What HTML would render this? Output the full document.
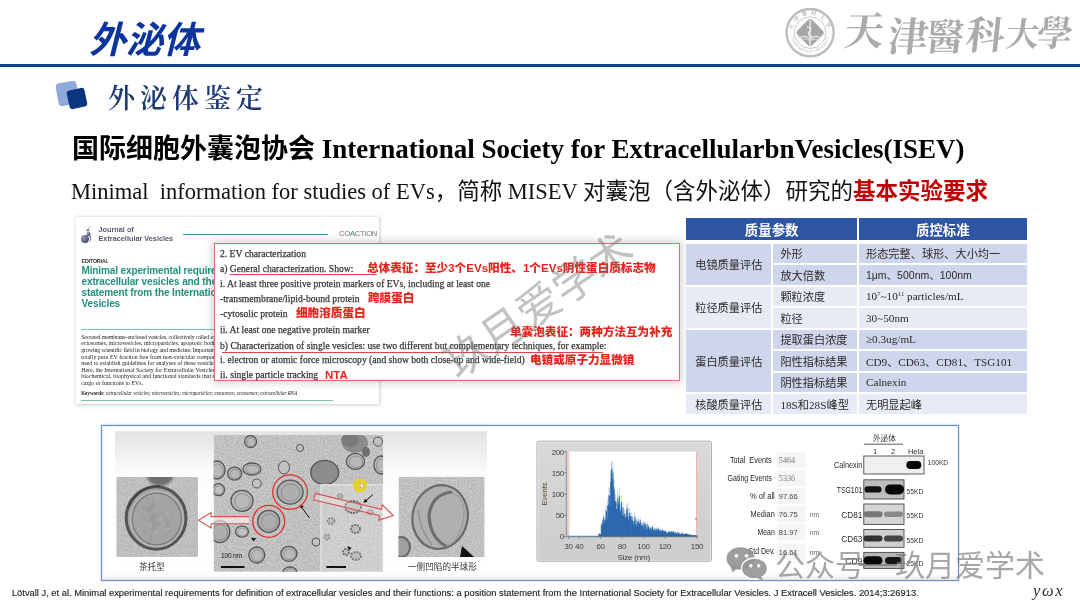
<!DOCTYPE html>
<html><head><meta charset="utf-8">
<style>
*{margin:0;padding:0;box-sizing:border-box}
html,body{width:1080px;height:608px;overflow:hidden;background:#fff}
body{position:relative;font-family:"Liberation Sans","Noto Sans CJK SC",sans-serif}
.a{position:absolute}
.sans{font-family:"Liberation Sans","Noto Sans CJK SC",sans-serif}
.serif{font-family:"Liberation Serif","Noto Serif CJK SC",serif}
#title{left:86px;top:17px;font-size:37px;font-weight:700;color:#0b359c;transform:skewX(-14deg);transform-origin:left bottom;line-height:48px;letter-spacing:0px;white-space:nowrap}
#hline{left:0;top:64px;width:1080px;height:2.5px;background:#11408e}
#sub{left:108px;top:82px;font-size:27px;font-weight:600;color:#1e3a72;font-family:"Liberation Serif","Noto Serif CJK SC",serif;letter-spacing:5px;line-height:34px;white-space:nowrap}
#h1{left:72px;top:131px;font-size:27px;font-weight:700;color:#000;white-space:nowrap;line-height:36px;font-family:"Liberation Serif","Noto Sans CJK SC",serif}
#h1 .cn{font-family:"Liberation Sans","Noto Sans CJK SC",sans-serif;font-weight:700}
#h2{left:71px;top:177px;font-size:22.5px;color:#111;white-space:nowrap;line-height:30px;font-family:"Liberation Serif","Noto Sans CJK SC",serif}
#h2 .cn{font-family:"Liberation Sans","Noto Sans CJK SC",sans-serif}
#h2 .red{color:#c00000;font-weight:700;font-family:"Liberation Sans","Noto Sans CJK SC",sans-serif}

#jpf{left:75.5px;top:217px;width:303.5px;height:186.7px;background:#fff;box-shadow:0 0 3px 1.5px rgba(0,0,0,.16)}
#jp{left:76px;top:219px;width:302.5px;height:184px;overflow:hidden}
#jp .t{position:absolute;white-space:nowrap}
#jp .jn{font-weight:700;font-size:7.3px;color:#555b6b;line-height:8px}
#jp .ttl{font-weight:700;font-size:10px;letter-spacing:-.12px;color:#23907c;line-height:11px;left:5.5px;top:46.3px}
#jp .par{font-family:"Liberation Serif",serif;font-size:5.9px;line-height:6.6px;color:#1c1c1c;left:5.2px}
#ov{left:214px;top:242.6px;width:466px;height:138px;background:#fff;border:1.4px solid #dd7070;box-shadow:0 0 8px 2px rgba(0,0,0,.17)}
#ov .l{position:absolute;left:5px;font-family:"Liberation Serif",serif;font-size:10.5px;color:#2e2e2e;-webkit-text-stroke:.25px #3a3a3a;white-space:nowrap;line-height:12px;transform:scaleX(.915);transform-origin:0 0}
#ov .r{position:absolute;font-family:"Liberation Sans","Noto Sans CJK SC",sans-serif;font-weight:900;font-size:11.6px;color:#e8231d;white-space:nowrap;line-height:14px}
#ov .u{position:absolute;height:1.3px;background:#d94848}

.tc{position:absolute;display:flex;align-items:center;font-size:11.2px;color:#2a2a2a;white-space:nowrap;font-family:"Liberation Serif","Noto Sans CJK SC",sans-serif}
.tc .c{font-family:"Liberation Sans","Noto Sans CJK SC",sans-serif}
.th{position:absolute;display:flex;align-items:center;justify-content:center;background:#2e54a4;color:#fff;font-weight:700;font-size:13.4px;font-family:"Liberation Sans","Noto Sans CJK SC",sans-serif}
.dk{background:#cfd5ea}.lt{background:#e8ebf5}
sup{font-size:.6em;vertical-align:.55em;line-height:0}

#logo{left:785px;top:8px}
#tjmu{left:0;top:0;width:0;height:0}
#tjmu span{position:absolute;font-family:"Liberation Serif","Noto Serif CJK TC","Noto Serif CJK SC",serif;font-weight:700;color:#ababab;line-height:1;white-space:nowrap;transform:skewX(-6deg)}
#wm{left:539.3px;top:301.1px;width:0;height:0}
#wm div{position:absolute;left:-130px;top:-25.5px;width:260px;height:60px;text-align:center;font-family:"Liberation Sans","Noto Sans CJK SC",sans-serif;font-weight:400;font-size:43.7px;line-height:60px;color:rgba(120,120,120,.45);transform:rotate(-34.5deg);white-space:nowrap}
#wx{left:775px;top:546px;font-family:"Liberation Sans","Noto Sans CJK SC",sans-serif;font-weight:400;font-size:30px;line-height:40px;color:rgba(125,125,125,.68);white-space:nowrap}
#foot{left:11.9px;top:588px;font-family:"Liberation Sans",sans-serif;font-size:9.35px;line-height:11px;color:#1a1a1a;-webkit-text-stroke:.15px #333;white-space:nowrap}
#ywx{left:1033px;top:583px;font-family:"Liberation Serif",serif;font-style:italic;font-size:16.5px;letter-spacing:1.7px;line-height:16px;color:#333;white-space:nowrap}
</style></head><body>

<div id="title" class="a">外泌体</div>
<div id="hline" class="a"></div>
<svg id="logo" class="a" width="52" height="52" viewBox="0 0 52 52">
 <circle cx="25.1" cy="24.6" r="23.6" fill="none" stroke="#bdbdbd" stroke-width="2.4"/>
 <circle cx="25.1" cy="24.6" r="15.8" fill="none" stroke="#c9c9c9" stroke-width="1"/>
 <rect x="14.6" y="14.1" width="21" height="21" rx="3.5" transform="rotate(45 25.1 24.6)" fill="#a6a6a6"/>
 <path d="M25.1 12 V40" stroke="#eee" stroke-width="1.3"/>
 <path d="M22 19 Q28 20 25 23 Q21 26 26 28 Q29 30 24 32" fill="none" stroke="#eee" stroke-width="1.3"/>
 <path d="M14 30 Q20 26 25 31 Q30 26 36 30" fill="none" stroke="#ddd" stroke-width="1.3"/>
 <path d="M15 32.5 Q20 29 25 33 Q30 29 35 32.5" fill="none" stroke="#ddd" stroke-width="1"/>
 <path id="arct" d="M7.5 22 A17.8 17.8 0 0 1 42.7 22" fill="none"/><text font-family="Liberation Serif,Noto Serif CJK TC,serif" font-size="5.2" font-weight="700" fill="#b0b0b0" letter-spacing="3.4"><textPath href="#arct">天津醫科大學</textPath></text>
 <path id="arcb" d="M6 28 A19.3 19.3 0 0 0 44.2 28" fill="none"/>
 <text font-family="Liberation Serif,serif" font-size="3.6" fill="#b5b5b5"><textPath href="#arcb">TIANJIN MEDICAL UNIVERSITY</textPath></text>
</svg>
<div id="tjmu" class="a"><span style="left:843.8px;top:12.4px;font-size:40px">天</span><span style="left:887.5px;top:17.5px;font-size:40px">津</span><span style="left:926.5px;top:19.0px;font-size:37px">醫</span><span style="left:966.4px;top:16.3px;font-size:39px">科</span><span style="left:1006.4px;top:19.1px;font-size:33px">大</span><span style="left:1036.8px;top:16.1px;font-size:36px">學</span></div>


<!-- bullet -->
<div class="a" style="left:57px;top:82px;width:21px;height:23px;background:#8ea9dc;border-radius:4px;transform:rotate(-10deg)"></div>
<div class="a" style="left:68px;top:89px;width:18px;height:19px;background:#0b3580;border-radius:3px;transform:rotate(-12deg)"></div>
<div id="sub" class="a">外泌体鉴定</div>

<div id="h1" class="a"><span class="cn">国际细胞外囊泡协会</span> International Society for ExtracellularbnVesicles(ISEV)</div>
<div id="h2" class="a">Minimal&nbsp; information for studies of EVs<span class="cn">，简称</span> MISEV <span class="cn">对囊泡（含外泌体）研究的</span><span class="red">基本实验要求</span></div>


<div id="jpf" class="a"></div>
<div id="jp" class="a">
 <svg class="t" style="left:4px;top:7px" width="14" height="19" viewBox="0 0 14 19">
  <defs><radialGradient id="sg" cx="35%" cy="35%" r="70%"><stop offset="0" stop-color="#9aa0bb"/><stop offset="1" stop-color="#3c4468"/></radialGradient></defs>
  <circle cx="5" cy="13" r="4" fill="url(#sg)"/>
  <path d="M9.5 8.5 Q13 12 9 17.5 Q12 12 8.5 9z" fill="#4a5274"/>
  <circle cx="8.5" cy="8" r="2" fill="url(#sg)"/>
  <circle cx="8" cy="4.2" r="1.2" fill="#6a7090"/>
  <path d="M8 2.5 L10.5 0.5" stroke="#7a8098" stroke-width=".6"/>
 </svg>
 <div class="t jn" style="left:22.5px;top:7px">Journal of</div>
 <div class="t jn" style="left:22.5px;top:15.5px">Extracellular Vesicles</div>
 <div class="t" style="left:107px;top:14.5px;width:145px;height:1.2px;background:#3f9f92"></div>
 <div class="t" style="left:263px;top:9.5px;font-size:7.6px;color:#6f7a75;letter-spacing:-.25px;line-height:10px">CO<span style="color:#3c8a60">A</span>CTION</div>
 <div class="t" style="left:5.5px;top:39px;font-size:5.4px;font-weight:700;color:#333;line-height:6px;letter-spacing:-.2px">EDITORIAL</div>
 <div class="t ttl">Minimal experimental requirements for definition of<br>extracellular vesicles and their functions: a position<br>statement from the International Society for Extracellular<br>Vesicles</div>
 <div class="t" style="left:5px;top:109.5px;width:290px;height:1.2px;background:#7cc0b6"></div>
 <div class="t par" style="top:114.8px;letter-spacing:-0.13px">Secreted membrane-enclosed vesicles, collectively called extracellular vesicles (EVs), which include exosomes,</div>
 <div class="t par" style="top:121.4px;letter-spacing:0.00px">ectosomes, microvesicles, microparticles, apoptotic bodies and other EV subsets, encompass a very rapidly</div>
 <div class="t par" style="top:128.0px;letter-spacing:-0.10px">growing scientific field in biology and medicine. Importantly, it is currently technically challenging to obtain a</div>
 <div class="t par" style="top:134.6px;letter-spacing:0.02px">totally pure EV fraction free from non-vesicular components for functional studies, and therefore there is a</div>
 <div class="t par" style="top:141.2px;letter-spacing:0.00px">need to establish guidelines for analyses of these vesicles and reporting of scientific studies on EV biology.</div>
 <div class="t par" style="top:147.8px;letter-spacing:0.01px">Here, the International Society for Extracellular Vesicles (ISEV) provides researchers with a minimal set of</div>
 <div class="t par" style="top:154.3px;letter-spacing:0.03px">biochemical, biophysical and functional standards that should be used to attribute any specific biological</div>
 <div class="t par" style="top:160.9px;letter-spacing:0.00px">cargo or functions to EVs.</div>
 
 <div class="t" style="left:5.2px;top:171.3px;font-family:'Liberation Serif',serif;font-size:5.05px;color:#222;line-height:6px"><b>Keywords:</b> <i>extracellular vesicles; microvesicles; microparticles; exosomes; ectosomes; extracellular RNA</i></div>
 <div class="t" style="left:5px;top:180.5px;width:252px;height:1.2px;background:#7cc0b6"></div>
</div>

<div id="ov" class="a">
 <div class="l" style="top:4.0px">2. EV characterization</div>
 <div class="l" style="top:19.0px">a) General characterization. Show:</div>
 <div class="u" style="left:15px;top:30.0px;width:147px"></div>
 <div class="r" style="left:152px;top:17.0px">总体表征：至少3个EVs阳性、1个EVs阴性蛋白质标志物</div>
 <div class="l" style="top:34.5px">i. At least three positive protein markers of EVs, including at least one</div>
 <div class="l" style="top:49.5px">-transmembrane/lipid-bound protein</div>
 <div class="r" style="left:153px;top:47.5px">跨膜蛋白</div>
 <div class="l" style="top:64.0px">-cytosolic protein</div>
 <div class="r" style="left:81px;top:62.0px">细胞溶质蛋白</div>
 <div class="l" style="top:80.0px">ii. At least one negative protein marker</div>
 <div class="r" style="left:295px;top:81.0px">单囊泡表征：两种方法互为补充</div>
 <div class="l" style="top:96.0px">b) Characterization of single vesicles: use two different but complementary techniques, for example:</div>
 <div class="u" style="left:7px;top:108.5px;width:381px"></div>
 <div class="l" style="top:110.5px">i. electron or atomic force microscopy (and show both close-up and wide-field)</div>
 <div class="r" style="left:315px;top:109.5px">电镜或原子力显微镜</div>
 <div class="l" style="top:125.5px">ii. single particle tracking</div>
 <div class="r" style="left:110px;top:124.5px;font-family:'Liberation Sans',sans-serif;font-size:11.5px">NTA</div>
</div>

<div id="tbl">
<div class="th" style="left:686.3px;top:218px;width:170.7px;height:22px">质量参数</div>
<div class="th" style="left:858.7px;top:218px;width:168.3px;height:22px">质控标准</div>
<div class="tc dk" style="left:686.3px;top:243.5px;width:85.0px;height:41.2px;justify-content:center"><span class="c">电镜质量评估</span></div>
<div class="tc lt" style="left:686.3px;top:286.5px;width:85.0px;height:41.2px;justify-content:center"><span class="c">粒径质量评估</span></div>
<div class="tc dk" style="left:686.3px;top:329.5px;width:85.0px;height:62.7px;justify-content:center"><span class="c">蛋白质量评估</span></div>
<div class="tc lt" style="left:686.3px;top:394.0px;width:85.0px;height:19.7px;justify-content:center"><span class="c">核酸质量评估</span></div>
<div class="tc dk" style="left:773.0px;top:243.5px;width:84.0px;height:19.7px;padding-left:7.4px"><span class="c">外形</span></div>
<div class="tc dk" style="left:858.7px;top:243.5px;width:168.3px;height:19.7px;padding-left:7.3px"><span class="c">形态完整、球形、大小均一</span></div>
<div class="tc dk" style="left:773.0px;top:265.0px;width:84.0px;height:19.7px;padding-left:7.4px"><span class="c">放大倍数</span></div>
<div class="tc dk" style="left:858.7px;top:265.0px;width:168.3px;height:19.7px;padding-left:7.3px"><span class="c" style="font-family:'Liberation Sans','Noto Sans CJK SC',sans-serif;font-size:10.5px">1μm、500nm、100nm</span></div>
<div class="tc lt" style="left:773.0px;top:286.5px;width:84.0px;height:19.7px;padding-left:7.4px"><span class="c">颗粒浓度</span></div>
<div class="tc lt" style="left:858.7px;top:286.5px;width:168.3px;height:19.7px;padding-left:7.3px"><span>10<sup>7</sup>~10<sup>11</sup> particles/mL</span></div>
<div class="tc lt" style="left:773.0px;top:308.0px;width:84.0px;height:19.7px;padding-left:7.4px"><span class="c">粒径</span></div>
<div class="tc lt" style="left:858.7px;top:308.0px;width:168.3px;height:19.7px;padding-left:7.3px"><span>30~50nm</span></div>
<div class="tc dk" style="left:773.0px;top:329.5px;width:84.0px;height:19.7px;padding-left:7.4px"><span class="c">提取蛋白浓度</span></div>
<div class="tc dk" style="left:858.7px;top:329.5px;width:168.3px;height:19.7px;padding-left:7.3px"><span>≥0.3ug/mL</span></div>
<div class="tc dk" style="left:773.0px;top:351.0px;width:84.0px;height:19.7px;padding-left:7.4px"><span class="c">阳性指标结果</span></div>
<div class="tc dk" style="left:858.7px;top:351.0px;width:168.3px;height:19.7px;padding-left:7.3px"><span>CD9<span class="c">、</span>CD63<span class="c">、</span>CD81<span class="c">、</span>TSG101</span></div>
<div class="tc dk" style="left:773.0px;top:372.5px;width:84.0px;height:19.7px;padding-left:7.4px"><span class="c">阴性指标结果</span></div>
<div class="tc dk" style="left:858.7px;top:372.5px;width:168.3px;height:19.7px;padding-left:7.3px"><span>Calnexin</span></div>
<div class="tc lt" style="left:773.0px;top:394.0px;width:84.0px;height:19.7px;padding-left:7.4px"><span>18S<span class="c">和</span>28S<span class="c">峰型</span></span></div>
<div class="tc lt" style="left:858.7px;top:394.0px;width:168.3px;height:19.7px;padding-left:7.3px"><span class="c">无明显起峰</span></div>
</div>
<!--FIG--><svg class="a" style="left:0;top:0" width="1080" height="608" viewBox="0 0 1080 608">
<defs>
<filter id="noise" x="0" y="0" width="100%" height="100%"><feTurbulence type="fractalNoise" baseFrequency="0.75" numOctaves="2" seed="3" result="n"/><feColorMatrix in="n" type="matrix" values="0 0 0 0 0  0 0 0 0 0  0 0 0 0 0  0 0 0 -3.2 1.95" result="a"/><feComposite in="SourceGraphic" in2="a" operator="in"/></filter>
<linearGradient id="bsh" x1="0" y1="0" x2="0" y2="1"><stop offset="0" stop-color="#fff" stop-opacity="0"/><stop offset="1" stop-color="#e2e2e2"/></linearGradient>
<linearGradient id="lsh" x1="0" y1="0" x2="1" y2="0"><stop offset="0" stop-color="#ececec"/><stop offset="1" stop-color="#fff" stop-opacity="0"/></linearGradient>
<linearGradient id="pg" x1="0" y1="0" x2="0" y2="1"><stop offset="0" stop-color="#e1e3e1"/><stop offset=".3" stop-color="#fbfcfb"/><stop offset="1" stop-color="#ffffff"/></linearGradient>
<linearGradient id="hp" x1="0" y1="0" x2="0" y2="1"><stop offset="0" stop-color="#d9d9d9"/><stop offset="1" stop-color="#cdcdcd"/></linearGradient>
<radialGradient id="ves" cx="50%" cy="50%" r="50%"><stop offset="0" stop-color="#a9a9a9"/><stop offset=".78" stop-color="#a0a0a0"/><stop offset=".86" stop-color="#6a6a6a"/><stop offset=".95" stop-color="#555"/><stop offset="1" stop-color="#9a9a9a" stop-opacity="0"/></radialGradient>
<radialGradient id="ves2" cx="50%" cy="50%" r="50%"><stop offset="0" stop-color="#b0b0b0"/><stop offset=".72" stop-color="#a2a2a2"/><stop offset=".85" stop-color="#6e6e6e"/><stop offset=".95" stop-color="#5a5a5a"/><stop offset="1" stop-color="#999" stop-opacity="0"/></radialGradient>
<filter id="bl" x="-20%" y="-20%" width="140%" height="140%"><feGaussianBlur stdDeviation="1.2"/></filter>
<filter id="bl2" x="-20%" y="-20%" width="140%" height="140%"><feGaussianBlur stdDeviation=".6"/></filter>
<clipPath id="cm"><rect x="213.6" y="434.9" width="169.5" height="136.9"/></clipPath>
<clipPath id="cl"><rect x="116.3" y="476.9" width="81.8" height="80"/></clipPath>
<clipPath id="cr"><rect x="398.5" y="476.7" width="86.1" height="80.4"/></clipPath>
</defs>
<rect x="101.5" y="424.5" width="857" height="156" fill="#000" opacity=".14" filter="url(#bl)"/>
<rect x="101.5" y="425.5" width="857" height="155" fill="#fff" stroke="#6a90dc" stroke-width="1.2"/>
<rect x="102.2" y="426.2" width="3" height="153.6" fill="url(#lsh)"/>
<rect x="102.2" y="572.5" width="855.6" height="7.4" fill="url(#bsh)"/>
<rect x="115.1" y="431.2" width="372" height="142" fill="url(#pg)"/>
<g clip-path="url(#cm)">
<rect x="213.6" y="434.9" width="169.5" height="136.9" fill="#cbcbcb"/>
<rect x="213.6" y="434.9" width="169.5" height="136.9" fill="#8a8a8a" filter="url(#noise)" opacity=".4"/>
<ellipse cx="250.6" cy="441.6" rx="6.0" ry="6.0" fill="#b9b9b9" stroke="#555" stroke-width="1.3"/>
<ellipse cx="251.1" cy="442.1" rx="4.3" ry="4.3" fill="none" stroke="#8a8a8a" stroke-width=".9"/>
<ellipse cx="217.0" cy="470.0" rx="8.0" ry="9.0" fill="#b9b9b9" stroke="#555" stroke-width="1.3"/>
<ellipse cx="217.5" cy="470.5" rx="5.8" ry="6.5" fill="none" stroke="#8a8a8a" stroke-width=".9"/>
<ellipse cx="234.6" cy="473.6" rx="7.0" ry="6.5" fill="#b9b9b9" stroke="#555" stroke-width="1.3"/>
<ellipse cx="235.1" cy="474.1" rx="5.0" ry="4.7" fill="none" stroke="#8a8a8a" stroke-width=".9"/>
<ellipse cx="251.9" cy="469.0" rx="9.0" ry="6.0" fill="#b9b9b9" stroke="#555" stroke-width="1.3"/>
<ellipse cx="252.4" cy="469.5" rx="6.5" ry="4.3" fill="none" stroke="#8a8a8a" stroke-width=".9"/>
<ellipse cx="256.8" cy="483.5" rx="4.5" ry="4.5" fill="#c2c2c2" stroke="#555" stroke-width="1.0"/>
<ellipse cx="218.6" cy="489.7" rx="6.0" ry="6.0" fill="#c2c2c2" stroke="#555" stroke-width="1.3"/>
<ellipse cx="219.1" cy="490.2" rx="4.3" ry="4.3" fill="none" stroke="#8a8a8a" stroke-width=".9"/>
<ellipse cx="242.0" cy="500.8" rx="11.0" ry="10.5" fill="#b9b9b9" stroke="#555" stroke-width="1.3"/>
<ellipse cx="242.5" cy="501.3" rx="7.9" ry="7.6" fill="none" stroke="#8a8a8a" stroke-width=".9"/>
<ellipse cx="284.0" cy="467.5" rx="5.5" ry="6.5" fill="#c2c2c2" stroke="#555" stroke-width="1.0"/>
<ellipse cx="324.7" cy="472.4" rx="14.0" ry="12.0" fill="#8c8c8c" stroke="#555" stroke-width="1.3"/>
<ellipse cx="325.2" cy="472.9" rx="10.1" ry="8.6" fill="none" stroke="#8a8a8a" stroke-width=".9"/>
<ellipse cx="355.5" cy="461.3" rx="9.0" ry="8.0" fill="#b9b9b9" stroke="#555" stroke-width="1.3"/>
<ellipse cx="356.0" cy="461.8" rx="6.5" ry="5.8" fill="none" stroke="#8a8a8a" stroke-width=".9"/>
<ellipse cx="378.0" cy="441.6" rx="4.5" ry="4.5" fill="#c2c2c2" stroke="#555" stroke-width="1.0"/>
<ellipse cx="381.0" cy="465.0" rx="7.0" ry="9.0" fill="#b9b9b9" stroke="#555" stroke-width="1.3"/>
<ellipse cx="381.5" cy="465.5" rx="5.0" ry="6.5" fill="none" stroke="#8a8a8a" stroke-width=".9"/>
<ellipse cx="290.1" cy="492.1" rx="13.0" ry="12.0" fill="#aeaeae" stroke="#555" stroke-width="1.3"/>
<ellipse cx="290.6" cy="492.6" rx="9.4" ry="8.6" fill="none" stroke="#8a8a8a" stroke-width=".9"/>
<ellipse cx="268.7" cy="521.3" rx="11.0" ry="11.0" fill="#aeaeae" stroke="#555" stroke-width="1.3"/>
<ellipse cx="269.2" cy="521.8" rx="7.9" ry="7.9" fill="none" stroke="#8a8a8a" stroke-width=".9"/>
<ellipse cx="219.8" cy="531.6" rx="10.0" ry="11.0" fill="#aeaeae" stroke="#555" stroke-width="1.3"/>
<ellipse cx="220.3" cy="532.1" rx="7.2" ry="7.9" fill="none" stroke="#8a8a8a" stroke-width=".9"/>
<ellipse cx="242.0" cy="531.6" rx="6.5" ry="5.5" fill="#c2c2c2" stroke="#555" stroke-width="1.3"/>
<ellipse cx="242.5" cy="532.1" rx="4.7" ry="4.0" fill="none" stroke="#8a8a8a" stroke-width=".9"/>
<ellipse cx="256.8" cy="555.0" rx="8.0" ry="8.0" fill="#b9b9b9" stroke="#555" stroke-width="1.3"/>
<ellipse cx="257.3" cy="555.5" rx="5.8" ry="5.8" fill="none" stroke="#8a8a8a" stroke-width=".9"/>
<ellipse cx="288.9" cy="553.8" rx="8.0" ry="7.5" fill="#b9b9b9" stroke="#555" stroke-width="1.3"/>
<ellipse cx="289.4" cy="554.3" rx="5.8" ry="5.4" fill="none" stroke="#8a8a8a" stroke-width=".9"/>
<ellipse cx="316.0" cy="542.0" rx="4.0" ry="4.0" fill="#c2c2c2" stroke="#555" stroke-width="1.0"/>
<ellipse cx="290.0" cy="572.0" rx="7.0" ry="5.0" fill="#b9b9b9" stroke="#555" stroke-width="1.3"/>
<ellipse cx="290.5" cy="572.5" rx="5.0" ry="3.6" fill="none" stroke="#8a8a8a" stroke-width=".9"/>
<ellipse cx="300.0" cy="448.0" rx="3.5" ry="3.5" fill="#c2c2c2" stroke="#555" stroke-width="1.0"/>
<ellipse cx="355" cy="443" rx="13" ry="10" fill="#8c8c8c"/><ellipse cx="350" cy="440" rx="9" ry="7" fill="#7a7a7a"/><ellipse cx="366" cy="452" rx="4" ry="5" fill="#6d6d6d"/>
<rect x="320.5" y="484.3" width="63" height="88" fill="#d6d6d6"/>
<rect x="320.5" y="484.3" width="63" height="88" fill="#9a9a9a" filter="url(#noise)" opacity=".3"/>
<rect x="321" y="484.8" width="62" height="87" fill="none" stroke="#e4e4e4" stroke-width="1.3"/>
<ellipse cx="353" cy="507" rx="8" ry="6" fill="#bdbdbd" stroke="#666" stroke-width="1.8" stroke-dasharray="2 1"/>
<ellipse cx="331" cy="521" rx="3.5" ry="3" fill="#bdbdbd" stroke="#888" stroke-width="1.8" stroke-dasharray="2 1"/>
<ellipse cx="355.5" cy="529" rx="4.5" ry="4" fill="#bdbdbd" stroke="#707070" stroke-width="1.8" stroke-dasharray="2 1"/>
<ellipse cx="356" cy="556" rx="5" ry="4" fill="#bdbdbd" stroke="#7a7a7a" stroke-width="1.8" stroke-dasharray="2 1"/>
<ellipse cx="346" cy="552" rx="3" ry="3" fill="#bdbdbd" stroke="#6a6a6a" stroke-width="1.8" stroke-dasharray="2 1"/>
<ellipse cx="370" cy="512" rx="3" ry="2" fill="#bdbdbd" stroke="#888" stroke-width="1.8" stroke-dasharray="2 1"/>
<ellipse cx="327" cy="537" rx="2.5" ry="2.5" fill="#bdbdbd" stroke="#909090" stroke-width="1.8" stroke-dasharray="2 1"/>
<ellipse cx="340" cy="496" rx="2.5" ry="2" fill="#bdbdbd" stroke="#999" stroke-width="1.8" stroke-dasharray="2 1"/>
</g>
<rect x="221" y="566" width="23.5" height="2" fill="#111"/>
<rect x="326.4" y="566" width="19.6" height="2" fill="#111"/>
<text x="221" y="557.8" font-family="Liberation Sans,sans-serif" font-size="6.6" fill="#111" letter-spacing="-.2">100 nm</text>
<path d="M309.5 518 L301.5 507.2" stroke="#111" stroke-width="1"/><path d="M299.6 504.6 L303.8 506.4 L300.9 508.6z" fill="#111"/>
<path d="M372.8 494.6 L365.5 501" stroke="#111" stroke-width="1"/><path d="M363.5 503 L365 498.8 L367.6 501.5z" fill="#111"/>
<path d="M251 537.5 L256.5 538.6 L253.2 541.2z" fill="#111"/>
<path d="M347 546 L351.6 547.8 L349.3 550.5z" fill="#111"/>
<circle cx="290.1" cy="492.1" r="17.3" fill="none" stroke="#e0322c" stroke-width="1.3"/>
<circle cx="268.7" cy="521.3" r="16" fill="none" stroke="#e0322c" stroke-width="1.3"/>
<circle cx="360" cy="485.5" r="7" fill="#e8d21c" opacity=".9"/>
<path d="M360.5 483 l0 5 l1.3 -1.3 l1 2 l.8 -.4 l-1 -2 l1.8 0z" fill="#fff" stroke="#777" stroke-width=".3"/>
<g clip-path="url(#cl)">
<rect x="116.3" y="476.9" width="81.8" height="80" fill="#c8c8c8"/>
<rect x="116.3" y="476.9" width="81.8" height="80" fill="#8c8c8c" filter="url(#noise)" opacity=".4"/>
<ellipse cx="160" cy="476" rx="13" ry="10" fill="#555" opacity=".75" filter="url(#bl)"/>
<g filter="url(#bl2)">
<ellipse cx="156.1" cy="518" rx="29.9" ry="31.2" fill="#a3a3a3" stroke="#555" stroke-width="3"/>
<ellipse cx="156.8" cy="519" rx="26.3" ry="27.6" fill="none" stroke="#b8b8b8" stroke-width="1.4"/>
<ellipse cx="156.8" cy="519" rx="24.5" ry="25.8" fill="none" stroke="#7c7c7c" stroke-width="1.2"/>
<path d="M128 508 Q138 486 160 486" fill="none" stroke="#444" stroke-width="2.2"/>
</g>
<g filter="url(#bl2)" opacity=".6">
<circle cx="144.3" cy="507.6" r="2.3" fill="#909090" opacity=".5"/>
<circle cx="149.3" cy="509.5" r="2.3" fill="#8a8a8a" opacity=".5"/>
<circle cx="144.2" cy="503.0" r="1.2" fill="#bcbcbc" opacity=".5"/>
<circle cx="161.7" cy="512.8" r="1.2" fill="#8a8a8a" opacity=".5"/>
<circle cx="160.8" cy="519.4" r="1.4" fill="#bcbcbc" opacity=".5"/>
<circle cx="165.4" cy="533.8" r="1.2" fill="#909090" opacity=".5"/>
<circle cx="153.3" cy="520.0" r="2.6" fill="#8a8a8a" opacity=".5"/>
<circle cx="157.2" cy="523.6" r="2.6" fill="#8a8a8a" opacity=".5"/>
<circle cx="150.8" cy="539.5" r="1.9" fill="#909090" opacity=".5"/>
<circle cx="153.2" cy="516.2" r="2.5" fill="#8a8a8a" opacity=".5"/>
<circle cx="175.2" cy="514.9" r="1.5" fill="#bcbcbc" opacity=".5"/>
<circle cx="138.3" cy="529.5" r="1.4" fill="#bcbcbc" opacity=".5"/>
<circle cx="151.8" cy="531.6" r="1.0" fill="#909090" opacity=".5"/>
<circle cx="155.6" cy="517.6" r="1.6" fill="#bcbcbc" opacity=".5"/>
<circle cx="149.1" cy="519.8" r="1.8" fill="#909090" opacity=".5"/>
<circle cx="158.5" cy="524.0" r="2.5" fill="#909090" opacity=".5"/>
<circle cx="150.4" cy="525.9" r="1.9" fill="#bcbcbc" opacity=".5"/>
<circle cx="147.5" cy="528.5" r="1.0" fill="#8a8a8a" opacity=".5"/>
<circle cx="152.4" cy="505.8" r="2.5" fill="#8a8a8a" opacity=".5"/>
<circle cx="156.7" cy="498.6" r="2.5" fill="#bcbcbc" opacity=".5"/>
<circle cx="136.4" cy="517.5" r="1.4" fill="#bcbcbc" opacity=".5"/>
<circle cx="168.8" cy="529.3" r="2.3" fill="#bcbcbc" opacity=".5"/>
<circle cx="176.3" cy="523.7" r="1.1" fill="#bcbcbc" opacity=".5"/>
<circle cx="148.0" cy="518.4" r="1.2" fill="#bcbcbc" opacity=".5"/>
<circle cx="166.7" cy="513.5" r="1.5" fill="#bcbcbc" opacity=".5"/>
<circle cx="149.9" cy="535.5" r="2.0" fill="#909090" opacity=".5"/>
<circle cx="147.8" cy="498.7" r="1.3" fill="#8a8a8a" opacity=".5"/>
<circle cx="167.5" cy="525.4" r="2.5" fill="#8a8a8a" opacity=".5"/>
<circle cx="157.0" cy="532.0" r="2.3" fill="#bcbcbc" opacity=".5"/>
<circle cx="154.1" cy="516.4" r="2.6" fill="#909090" opacity=".5"/>
<circle cx="166.6" cy="521.2" r="2.3" fill="#8a8a8a" opacity=".5"/>
<circle cx="168.3" cy="517.5" r="1.2" fill="#bcbcbc" opacity=".5"/>
<circle cx="163.5" cy="524.9" r="1.2" fill="#bcbcbc" opacity=".5"/>
<circle cx="153.2" cy="528.6" r="2.6" fill="#8a8a8a" opacity=".5"/>
<circle cx="165.9" cy="517.5" r="1.8" fill="#909090" opacity=".5"/>
<circle cx="153.5" cy="524.5" r="1.8" fill="#8a8a8a" opacity=".5"/>
<circle cx="169.7" cy="530.8" r="1.9" fill="#8a8a8a" opacity=".5"/>
<circle cx="148.3" cy="511.1" r="1.5" fill="#8a8a8a" opacity=".5"/>
<circle cx="144.7" cy="519.6" r="1.9" fill="#909090" opacity=".5"/>
<circle cx="144.9" cy="532.2" r="2.2" fill="#909090" opacity=".5"/>
</g>
</g>
<g clip-path="url(#cr)">
<rect x="398.5" y="476.7" width="86.1" height="80.4" fill="#cacaca"/>
<rect x="398.5" y="476.7" width="86.1" height="80.4" fill="#8c8c8c" filter="url(#noise)" opacity=".4"/>
<ellipse cx="440.1" cy="517" rx="27.5" ry="32" fill="#b0b0b0" stroke="#6a6a6a" stroke-width="2.2" transform="rotate(12 440 517)"/>
<path d="M452 492 Q432 494 429 515 Q430 538 446 546" fill="none" stroke="#6e6e6e" stroke-width="3.2"/>
<path d="M452 492 Q468 500 463 522 Q458 543 446 546" fill="none" stroke="#999" stroke-width="1.2"/>
<path d="M418 510 Q420 530 432 545" fill="none" stroke="#909090" stroke-width="1.5"/>
<ellipse cx="401" cy="547" rx="9" ry="10" fill="#a0a0a0" stroke="#666" stroke-width="2"/>
<path d="M462 546 L474 557 L460 557z" fill="#111"/>
</g>
<path d="M249 516.6 L211 516.6 L211 512.5 L198.5 520.2 L211 527.9 L211 523.8 L249 523.8" fill="#fff" fill-opacity=".55" stroke="#d9534f" stroke-width="1.1"/>
<g transform="translate(315.2 493.4) rotate(13.5)"><path d="M0 0 L68 0 L68 -4.5 L81 3.3 L68 11.1 L68 6.6 L0 6.6z" fill="#fff" fill-opacity=".2" stroke="#d9534f" stroke-width="1.1"/></g>
<text x="139" y="570" font-family="Liberation Sans,Noto Sans CJK SC,sans-serif" font-size="8.6" fill="#333">茶托型</text>
<text x="408" y="570" font-family="Liberation Sans,Noto Sans CJK SC,sans-serif" font-size="8.6" fill="#333">一侧凹陷的半球形</text>
<rect x="537" y="441.2" width="174.4" height="120" rx="1.5" fill="url(#hp)" stroke="#a8a8a8" stroke-width="1"/>
<rect x="538" y="442.2" width="172.4" height="118" fill="none" stroke="#eaeaea" stroke-width=".8"/>
<rect x="568" y="451.6" width="129" height="85" fill="#fff"/>
<rect x="597.95" y="536.28" width="0.59" height="0.22" fill="#9fbfe0"/>
<rect x="598.54" y="533.68" width="0.59" height="2.82" fill="#9fbfe0"/>
<rect x="599.12" y="533.11" width="0.59" height="3.39" fill="#9fbfe0"/>
<rect x="599.71" y="533.82" width="0.59" height="2.68" fill="#9fbfe0"/>
<rect x="600.30" y="533.76" width="0.59" height="2.74" fill="#9fbfe0"/>
<rect x="600.89" y="522.41" width="0.59" height="14.09" fill="#9fbfe0"/>
<rect x="601.48" y="524.22" width="0.59" height="12.28" fill="#9fbfe0"/>
<rect x="602.07" y="519.95" width="0.59" height="16.55" fill="#9fbfe0"/>
<rect x="602.66" y="517.25" width="0.59" height="19.25" fill="#9fbfe0"/>
<rect x="603.25" y="513.85" width="0.59" height="22.65" fill="#9fbfe0"/>
<rect x="603.84" y="520.35" width="0.59" height="16.15" fill="#9fbfe0"/>
<rect x="604.43" y="516.54" width="0.59" height="19.96" fill="#9fbfe0"/>
<rect x="605.01" y="517.10" width="0.59" height="19.40" fill="#9fbfe0"/>
<rect x="605.60" y="505.70" width="0.59" height="30.80" fill="#9fbfe0"/>
<rect x="606.19" y="506.30" width="0.59" height="30.20" fill="#9fbfe0"/>
<rect x="606.78" y="515.57" width="0.59" height="20.93" fill="#9fbfe0"/>
<rect x="607.37" y="499.32" width="0.59" height="37.18" fill="#9fbfe0"/>
<rect x="607.96" y="498.34" width="0.59" height="38.16" fill="#9fbfe0"/>
<rect x="608.55" y="487.02" width="0.59" height="49.48" fill="#9fbfe0"/>
<rect x="609.14" y="488.00" width="0.59" height="48.50" fill="#9fbfe0"/>
<rect x="609.73" y="499.77" width="0.59" height="36.73" fill="#9fbfe0"/>
<rect x="610.31" y="471.13" width="0.59" height="65.37" fill="#9fbfe0"/>
<rect x="610.90" y="461.79" width="0.59" height="74.71" fill="#9fbfe0"/>
<rect x="611.49" y="461.79" width="0.59" height="74.71" fill="#9fbfe0"/>
<rect x="612.08" y="466.78" width="0.59" height="69.72" fill="#9fbfe0"/>
<rect x="612.67" y="461.79" width="0.59" height="74.71" fill="#9fbfe0"/>
<rect x="613.26" y="476.95" width="0.59" height="59.55" fill="#9fbfe0"/>
<rect x="613.85" y="480.40" width="0.59" height="56.10" fill="#9fbfe0"/>
<rect x="614.44" y="493.97" width="0.59" height="42.53" fill="#9fbfe0"/>
<rect x="615.03" y="494.56" width="0.59" height="41.94" fill="#9fbfe0"/>
<rect x="615.62" y="494.65" width="0.59" height="41.85" fill="#9fbfe0"/>
<rect x="616.20" y="503.83" width="0.59" height="32.67" fill="#9fbfe0"/>
<rect x="616.79" y="503.51" width="0.59" height="32.99" fill="#9fbfe0"/>
<rect x="617.38" y="490.76" width="0.59" height="45.74" fill="#9fbfe0"/>
<rect x="617.97" y="497.59" width="0.59" height="38.91" fill="#9fbfe0"/>
<rect x="618.56" y="495.28" width="0.59" height="41.22" fill="#9fbfe0"/>
<rect x="619.15" y="487.92" width="0.59" height="48.58" fill="#9fbfe0"/>
<rect x="619.74" y="507.39" width="0.59" height="29.11" fill="#9fbfe0"/>
<rect x="620.33" y="504.58" width="0.59" height="31.92" fill="#9fbfe0"/>
<rect x="620.92" y="495.19" width="0.59" height="41.31" fill="#9fbfe0"/>
<rect x="621.50" y="501.19" width="0.59" height="35.31" fill="#9fbfe0"/>
<rect x="622.09" y="511.46" width="0.59" height="25.04" fill="#9fbfe0"/>
<rect x="622.68" y="501.99" width="0.59" height="34.51" fill="#9fbfe0"/>
<rect x="623.27" y="511.13" width="0.59" height="25.37" fill="#9fbfe0"/>
<rect x="623.86" y="511.72" width="0.59" height="24.78" fill="#9fbfe0"/>
<rect x="624.45" y="509.09" width="0.59" height="27.41" fill="#9fbfe0"/>
<rect x="625.04" y="513.59" width="0.59" height="22.91" fill="#9fbfe0"/>
<rect x="625.63" y="514.99" width="0.59" height="21.51" fill="#9fbfe0"/>
<rect x="626.22" y="504.68" width="0.59" height="31.82" fill="#9fbfe0"/>
<rect x="626.81" y="512.97" width="0.59" height="23.53" fill="#9fbfe0"/>
<rect x="627.39" y="502.60" width="0.59" height="33.90" fill="#9fbfe0"/>
<rect x="627.98" y="516.64" width="0.59" height="19.86" fill="#9fbfe0"/>
<rect x="628.57" y="512.50" width="0.59" height="24.00" fill="#9fbfe0"/>
<rect x="629.16" y="508.48" width="0.59" height="28.02" fill="#9fbfe0"/>
<rect x="629.75" y="513.29" width="0.59" height="23.21" fill="#9fbfe0"/>
<rect x="630.34" y="512.06" width="0.59" height="24.44" fill="#9fbfe0"/>
<rect x="630.93" y="517.57" width="0.59" height="18.93" fill="#9fbfe0"/>
<rect x="631.52" y="512.27" width="0.59" height="24.23" fill="#9fbfe0"/>
<rect x="632.11" y="517.15" width="0.59" height="19.35" fill="#9fbfe0"/>
<rect x="632.69" y="518.13" width="0.59" height="18.37" fill="#9fbfe0"/>
<rect x="633.28" y="521.91" width="0.59" height="14.59" fill="#9fbfe0"/>
<rect x="633.87" y="517.87" width="0.59" height="18.63" fill="#9fbfe0"/>
<rect x="634.46" y="512.75" width="0.59" height="23.75" fill="#9fbfe0"/>
<rect x="635.05" y="521.63" width="0.59" height="14.87" fill="#9fbfe0"/>
<rect x="635.64" y="516.09" width="0.59" height="20.41" fill="#9fbfe0"/>
<rect x="636.23" y="523.59" width="0.59" height="12.91" fill="#9fbfe0"/>
<rect x="636.82" y="519.47" width="0.59" height="17.03" fill="#9fbfe0"/>
<rect x="637.41" y="519.70" width="0.59" height="16.80" fill="#9fbfe0"/>
<rect x="637.99" y="518.34" width="0.59" height="18.16" fill="#9fbfe0"/>
<rect x="638.58" y="523.30" width="0.59" height="13.20" fill="#9fbfe0"/>
<rect x="639.17" y="520.85" width="0.59" height="15.65" fill="#9fbfe0"/>
<rect x="639.76" y="517.24" width="0.59" height="19.26" fill="#9fbfe0"/>
<rect x="640.35" y="519.60" width="0.59" height="16.90" fill="#9fbfe0"/>
<rect x="640.94" y="522.93" width="0.59" height="13.57" fill="#9fbfe0"/>
<rect x="641.53" y="523.64" width="0.59" height="12.86" fill="#9fbfe0"/>
<rect x="642.12" y="523.97" width="0.59" height="12.53" fill="#9fbfe0"/>
<rect x="642.71" y="520.08" width="0.59" height="16.42" fill="#9fbfe0"/>
<rect x="643.30" y="527.58" width="0.59" height="8.92" fill="#9fbfe0"/>
<rect x="643.88" y="521.83" width="0.59" height="14.67" fill="#9fbfe0"/>
<rect x="644.47" y="521.30" width="0.59" height="15.20" fill="#9fbfe0"/>
<rect x="645.06" y="524.07" width="0.59" height="12.43" fill="#9fbfe0"/>
<rect x="645.65" y="521.59" width="0.59" height="14.91" fill="#9fbfe0"/>
<rect x="646.24" y="528.14" width="0.59" height="8.36" fill="#9fbfe0"/>
<rect x="646.83" y="527.20" width="0.59" height="9.30" fill="#9fbfe0"/>
<rect x="647.42" y="522.28" width="0.59" height="14.22" fill="#9fbfe0"/>
<rect x="648.01" y="524.93" width="0.59" height="11.57" fill="#9fbfe0"/>
<rect x="648.60" y="525.27" width="0.59" height="11.23" fill="#9fbfe0"/>
<rect x="649.18" y="528.65" width="0.59" height="7.85" fill="#9fbfe0"/>
<rect x="649.77" y="528.16" width="0.59" height="8.34" fill="#9fbfe0"/>
<rect x="650.36" y="526.60" width="0.59" height="9.90" fill="#9fbfe0"/>
<rect x="650.95" y="529.22" width="0.59" height="7.28" fill="#9fbfe0"/>
<rect x="651.54" y="526.00" width="0.59" height="10.50" fill="#9fbfe0"/>
<rect x="652.13" y="524.98" width="0.59" height="11.52" fill="#9fbfe0"/>
<rect x="652.72" y="527.58" width="0.59" height="8.92" fill="#9fbfe0"/>
<rect x="653.31" y="529.39" width="0.59" height="7.11" fill="#9fbfe0"/>
<rect x="653.90" y="528.82" width="0.59" height="7.68" fill="#9fbfe0"/>
<rect x="654.49" y="526.80" width="0.59" height="9.70" fill="#9fbfe0"/>
<rect x="655.07" y="530.08" width="0.59" height="6.42" fill="#9fbfe0"/>
<rect x="655.66" y="528.48" width="0.59" height="8.02" fill="#9fbfe0"/>
<rect x="656.25" y="527.43" width="0.59" height="9.07" fill="#9fbfe0"/>
<rect x="656.84" y="529.94" width="0.59" height="6.56" fill="#9fbfe0"/>
<rect x="657.43" y="527.97" width="0.59" height="8.53" fill="#9fbfe0"/>
<rect x="658.02" y="527.05" width="0.59" height="9.45" fill="#9fbfe0"/>
<rect x="658.61" y="530.32" width="0.59" height="6.18" fill="#9fbfe0"/>
<rect x="659.20" y="529.38" width="0.59" height="7.12" fill="#9fbfe0"/>
<rect x="659.79" y="528.53" width="0.59" height="7.97" fill="#9fbfe0"/>
<rect x="660.37" y="530.02" width="0.59" height="6.48" fill="#9fbfe0"/>
<rect x="660.96" y="530.50" width="0.59" height="6.00" fill="#9fbfe0"/>
<rect x="661.55" y="529.16" width="0.59" height="7.34" fill="#9fbfe0"/>
<rect x="662.14" y="528.91" width="0.59" height="7.59" fill="#9fbfe0"/>
<rect x="662.73" y="531.21" width="0.59" height="5.29" fill="#9fbfe0"/>
<rect x="663.32" y="529.66" width="0.59" height="6.84" fill="#9fbfe0"/>
<rect x="663.91" y="530.11" width="0.59" height="6.39" fill="#9fbfe0"/>
<rect x="664.50" y="529.83" width="0.59" height="6.67" fill="#9fbfe0"/>
<rect x="665.09" y="530.98" width="0.59" height="5.52" fill="#9fbfe0"/>
<rect x="665.68" y="530.76" width="0.59" height="5.74" fill="#9fbfe0"/>
<rect x="666.26" y="532.15" width="0.59" height="4.35" fill="#9fbfe0"/>
<rect x="666.85" y="532.31" width="0.59" height="4.19" fill="#9fbfe0"/>
<rect x="667.44" y="532.18" width="0.59" height="4.32" fill="#9fbfe0"/>
<rect x="668.03" y="531.01" width="0.59" height="5.49" fill="#9fbfe0"/>
<rect x="668.62" y="531.88" width="0.59" height="4.62" fill="#9fbfe0"/>
<rect x="669.21" y="530.51" width="0.59" height="5.99" fill="#9fbfe0"/>
<rect x="669.80" y="531.63" width="0.59" height="4.87" fill="#9fbfe0"/>
<rect x="670.39" y="531.63" width="0.59" height="4.87" fill="#9fbfe0"/>
<rect x="670.98" y="530.35" width="0.59" height="6.15" fill="#9fbfe0"/>
<rect x="671.56" y="531.60" width="0.59" height="4.90" fill="#9fbfe0"/>
<rect x="672.15" y="531.61" width="0.59" height="4.89" fill="#9fbfe0"/>
<rect x="672.74" y="530.60" width="0.59" height="5.90" fill="#9fbfe0"/>
<rect x="673.33" y="530.59" width="0.59" height="5.91" fill="#9fbfe0"/>
<rect x="673.92" y="532.89" width="0.59" height="3.61" fill="#9fbfe0"/>
<rect x="674.51" y="532.07" width="0.59" height="4.43" fill="#9fbfe0"/>
<rect x="675.10" y="531.72" width="0.59" height="4.78" fill="#9fbfe0"/>
<rect x="675.69" y="531.91" width="0.59" height="4.59" fill="#9fbfe0"/>
<rect x="676.28" y="533.29" width="0.59" height="3.21" fill="#9fbfe0"/>
<rect x="676.86" y="533.04" width="0.59" height="3.46" fill="#9fbfe0"/>
<rect x="677.45" y="531.51" width="0.59" height="4.99" fill="#9fbfe0"/>
<rect x="678.04" y="531.99" width="0.59" height="4.51" fill="#9fbfe0"/>
<rect x="678.63" y="533.57" width="0.59" height="2.93" fill="#9fbfe0"/>
<rect x="679.22" y="532.91" width="0.59" height="3.59" fill="#9fbfe0"/>
<rect x="679.81" y="533.33" width="0.59" height="3.17" fill="#9fbfe0"/>
<rect x="680.40" y="533.81" width="0.59" height="2.69" fill="#9fbfe0"/>
<rect x="680.99" y="533.41" width="0.59" height="3.09" fill="#9fbfe0"/>
<rect x="681.58" y="533.01" width="0.59" height="3.49" fill="#9fbfe0"/>
<rect x="682.17" y="532.26" width="0.59" height="4.24" fill="#9fbfe0"/>
<rect x="682.75" y="533.99" width="0.59" height="2.51" fill="#9fbfe0"/>
<rect x="683.34" y="533.98" width="0.59" height="2.52" fill="#9fbfe0"/>
<rect x="683.93" y="533.50" width="0.59" height="3.00" fill="#9fbfe0"/>
<rect x="684.52" y="533.79" width="0.59" height="2.71" fill="#9fbfe0"/>
<rect x="685.11" y="533.21" width="0.59" height="3.29" fill="#9fbfe0"/>
<rect x="685.70" y="533.65" width="0.59" height="2.85" fill="#9fbfe0"/>
<rect x="686.29" y="533.08" width="0.59" height="3.42" fill="#9fbfe0"/>
<rect x="686.88" y="533.72" width="0.59" height="2.78" fill="#9fbfe0"/>
<rect x="687.47" y="533.33" width="0.59" height="3.17" fill="#9fbfe0"/>
<rect x="688.05" y="534.07" width="0.59" height="2.43" fill="#9fbfe0"/>
<rect x="688.64" y="534.31" width="0.59" height="2.19" fill="#9fbfe0"/>
<rect x="689.23" y="534.45" width="0.59" height="2.05" fill="#9fbfe0"/>
<rect x="689.82" y="534.87" width="0.59" height="1.63" fill="#9fbfe0"/>
<rect x="690.41" y="534.26" width="0.59" height="2.24" fill="#9fbfe0"/>
<rect x="691.00" y="534.96" width="0.59" height="1.54" fill="#9fbfe0"/>
<rect x="691.59" y="535.03" width="0.59" height="1.47" fill="#9fbfe0"/>
<rect x="692.18" y="534.84" width="0.59" height="1.66" fill="#9fbfe0"/>
<rect x="692.77" y="535.09" width="0.59" height="1.41" fill="#9fbfe0"/>
<rect x="693.36" y="535.23" width="0.59" height="1.27" fill="#9fbfe0"/>
<rect x="693.94" y="534.95" width="0.59" height="1.55" fill="#9fbfe0"/>
<rect x="694.53" y="535.11" width="0.59" height="1.39" fill="#9fbfe0"/>
<rect x="695.12" y="535.45" width="0.59" height="1.05" fill="#9fbfe0"/>
<rect x="695.71" y="534.84" width="0.59" height="1.66" fill="#9fbfe0"/>
<rect x="696.30" y="535.09" width="0.59" height="1.41" fill="#9fbfe0"/>
<rect x="696.89" y="535.59" width="0.59" height="0.91" fill="#9fbfe0"/>
<rect x="597.95" y="536.31" width="0.79" height="0.19" fill="#1d5ba6"/>
<rect x="598.54" y="534.14" width="0.79" height="2.36" fill="#1d5ba6"/>
<rect x="599.12" y="533.67" width="0.79" height="2.83" fill="#1d5ba6"/>
<rect x="599.71" y="534.26" width="0.79" height="2.24" fill="#1d5ba6"/>
<rect x="600.30" y="534.21" width="0.79" height="2.29" fill="#1d5ba6"/>
<rect x="600.89" y="524.71" width="0.79" height="11.79" fill="#1d5ba6"/>
<rect x="601.48" y="526.23" width="0.79" height="10.27" fill="#1d5ba6"/>
<rect x="602.07" y="522.66" width="0.79" height="13.84" fill="#1d5ba6"/>
<rect x="602.66" y="520.40" width="0.79" height="16.10" fill="#1d5ba6"/>
<rect x="603.25" y="517.55" width="0.79" height="18.95" fill="#1d5ba6"/>
<rect x="603.84" y="522.99" width="0.79" height="13.51" fill="#1d5ba6"/>
<rect x="604.43" y="519.81" width="0.79" height="16.69" fill="#1d5ba6"/>
<rect x="605.01" y="520.28" width="0.79" height="16.22" fill="#1d5ba6"/>
<rect x="605.60" y="510.74" width="0.79" height="25.76" fill="#1d5ba6"/>
<rect x="606.19" y="511.24" width="0.79" height="25.26" fill="#1d5ba6"/>
<rect x="606.78" y="518.99" width="0.79" height="17.51" fill="#1d5ba6"/>
<rect x="607.37" y="505.40" width="0.79" height="31.10" fill="#1d5ba6"/>
<rect x="607.96" y="504.59" width="0.79" height="31.91" fill="#1d5ba6"/>
<rect x="608.55" y="495.12" width="0.79" height="41.38" fill="#1d5ba6"/>
<rect x="609.14" y="495.94" width="0.79" height="40.56" fill="#1d5ba6"/>
<rect x="609.73" y="505.78" width="0.79" height="30.72" fill="#1d5ba6"/>
<rect x="610.31" y="481.82" width="0.79" height="54.68" fill="#1d5ba6"/>
<rect x="610.90" y="469.33" width="0.79" height="67.17" fill="#1d5ba6"/>
<rect x="611.49" y="469.47" width="0.79" height="67.03" fill="#1d5ba6"/>
<rect x="612.08" y="478.18" width="0.79" height="58.32" fill="#1d5ba6"/>
<rect x="612.67" y="472.63" width="0.79" height="63.87" fill="#1d5ba6"/>
<rect x="613.26" y="486.70" width="0.79" height="49.80" fill="#1d5ba6"/>
<rect x="613.85" y="489.58" width="0.79" height="46.92" fill="#1d5ba6"/>
<rect x="614.44" y="500.93" width="0.79" height="35.57" fill="#1d5ba6"/>
<rect x="615.03" y="501.43" width="0.79" height="35.07" fill="#1d5ba6"/>
<rect x="615.62" y="501.50" width="0.79" height="35.00" fill="#1d5ba6"/>
<rect x="616.20" y="509.17" width="0.79" height="27.33" fill="#1d5ba6"/>
<rect x="616.79" y="508.91" width="0.79" height="27.59" fill="#1d5ba6"/>
<rect x="617.38" y="498.24" width="0.79" height="38.26" fill="#1d5ba6"/>
<rect x="617.97" y="503.96" width="0.79" height="32.54" fill="#1d5ba6"/>
<rect x="618.56" y="502.02" width="0.79" height="34.48" fill="#1d5ba6"/>
<rect x="619.15" y="495.87" width="0.79" height="40.63" fill="#1d5ba6"/>
<rect x="619.74" y="512.15" width="0.79" height="24.35" fill="#1d5ba6"/>
<rect x="620.33" y="509.81" width="0.79" height="26.69" fill="#1d5ba6"/>
<rect x="620.92" y="501.95" width="0.79" height="34.55" fill="#1d5ba6"/>
<rect x="621.50" y="506.97" width="0.79" height="29.53" fill="#1d5ba6"/>
<rect x="622.09" y="515.56" width="0.79" height="20.94" fill="#1d5ba6"/>
<rect x="622.68" y="507.63" width="0.79" height="28.87" fill="#1d5ba6"/>
<rect x="623.27" y="515.28" width="0.79" height="21.22" fill="#1d5ba6"/>
<rect x="623.86" y="515.77" width="0.79" height="20.73" fill="#1d5ba6"/>
<rect x="624.45" y="513.58" width="0.79" height="22.92" fill="#1d5ba6"/>
<rect x="625.04" y="517.34" width="0.79" height="19.16" fill="#1d5ba6"/>
<rect x="625.63" y="518.51" width="0.79" height="17.99" fill="#1d5ba6"/>
<rect x="626.22" y="509.88" width="0.79" height="26.62" fill="#1d5ba6"/>
<rect x="626.81" y="516.82" width="0.79" height="19.68" fill="#1d5ba6"/>
<rect x="627.39" y="508.15" width="0.79" height="28.35" fill="#1d5ba6"/>
<rect x="627.98" y="519.89" width="0.79" height="16.61" fill="#1d5ba6"/>
<rect x="628.57" y="516.43" width="0.79" height="20.07" fill="#1d5ba6"/>
<rect x="629.16" y="513.07" width="0.79" height="23.43" fill="#1d5ba6"/>
<rect x="629.75" y="517.09" width="0.79" height="19.41" fill="#1d5ba6"/>
<rect x="630.34" y="516.06" width="0.79" height="20.44" fill="#1d5ba6"/>
<rect x="630.93" y="520.67" width="0.79" height="15.83" fill="#1d5ba6"/>
<rect x="631.52" y="516.23" width="0.79" height="20.27" fill="#1d5ba6"/>
<rect x="632.11" y="520.32" width="0.79" height="16.18" fill="#1d5ba6"/>
<rect x="632.69" y="521.14" width="0.79" height="15.36" fill="#1d5ba6"/>
<rect x="633.28" y="524.30" width="0.79" height="12.20" fill="#1d5ba6"/>
<rect x="633.87" y="520.92" width="0.79" height="15.58" fill="#1d5ba6"/>
<rect x="634.46" y="516.64" width="0.79" height="19.86" fill="#1d5ba6"/>
<rect x="635.05" y="524.07" width="0.79" height="12.43" fill="#1d5ba6"/>
<rect x="635.64" y="519.43" width="0.79" height="17.07" fill="#1d5ba6"/>
<rect x="636.23" y="525.71" width="0.79" height="10.79" fill="#1d5ba6"/>
<rect x="636.82" y="522.26" width="0.79" height="14.24" fill="#1d5ba6"/>
<rect x="637.41" y="522.45" width="0.79" height="14.05" fill="#1d5ba6"/>
<rect x="637.99" y="521.31" width="0.79" height="15.19" fill="#1d5ba6"/>
<rect x="638.58" y="525.46" width="0.79" height="11.04" fill="#1d5ba6"/>
<rect x="639.17" y="523.41" width="0.79" height="13.09" fill="#1d5ba6"/>
<rect x="639.76" y="520.39" width="0.79" height="16.11" fill="#1d5ba6"/>
<rect x="640.35" y="522.37" width="0.79" height="14.13" fill="#1d5ba6"/>
<rect x="640.94" y="525.15" width="0.79" height="11.35" fill="#1d5ba6"/>
<rect x="641.53" y="525.74" width="0.79" height="10.76" fill="#1d5ba6"/>
<rect x="642.12" y="526.02" width="0.79" height="10.48" fill="#1d5ba6"/>
<rect x="642.71" y="522.76" width="0.79" height="13.74" fill="#1d5ba6"/>
<rect x="643.30" y="529.04" width="0.79" height="7.46" fill="#1d5ba6"/>
<rect x="643.88" y="524.23" width="0.79" height="12.27" fill="#1d5ba6"/>
<rect x="644.47" y="523.79" width="0.79" height="12.71" fill="#1d5ba6"/>
<rect x="645.06" y="526.10" width="0.79" height="10.40" fill="#1d5ba6"/>
<rect x="645.65" y="524.03" width="0.79" height="12.47" fill="#1d5ba6"/>
<rect x="646.24" y="529.51" width="0.79" height="6.99" fill="#1d5ba6"/>
<rect x="646.83" y="528.72" width="0.79" height="7.78" fill="#1d5ba6"/>
<rect x="647.42" y="524.61" width="0.79" height="11.89" fill="#1d5ba6"/>
<rect x="648.01" y="526.83" width="0.79" height="9.67" fill="#1d5ba6"/>
<rect x="648.60" y="527.11" width="0.79" height="9.39" fill="#1d5ba6"/>
<rect x="649.18" y="529.93" width="0.79" height="6.57" fill="#1d5ba6"/>
<rect x="649.77" y="529.53" width="0.79" height="6.97" fill="#1d5ba6"/>
<rect x="650.36" y="528.22" width="0.79" height="8.28" fill="#1d5ba6"/>
<rect x="650.95" y="530.41" width="0.79" height="6.09" fill="#1d5ba6"/>
<rect x="651.54" y="527.72" width="0.79" height="8.78" fill="#1d5ba6"/>
<rect x="652.13" y="526.86" width="0.79" height="9.64" fill="#1d5ba6"/>
<rect x="652.72" y="529.04" width="0.79" height="7.46" fill="#1d5ba6"/>
<rect x="653.31" y="530.55" width="0.79" height="5.95" fill="#1d5ba6"/>
<rect x="653.90" y="530.08" width="0.79" height="6.42" fill="#1d5ba6"/>
<rect x="654.49" y="528.38" width="0.79" height="8.12" fill="#1d5ba6"/>
<rect x="655.07" y="531.13" width="0.79" height="5.37" fill="#1d5ba6"/>
<rect x="655.66" y="529.79" width="0.79" height="6.71" fill="#1d5ba6"/>
<rect x="656.25" y="528.92" width="0.79" height="7.58" fill="#1d5ba6"/>
<rect x="656.84" y="531.01" width="0.79" height="5.49" fill="#1d5ba6"/>
<rect x="657.43" y="529.36" width="0.79" height="7.14" fill="#1d5ba6"/>
<rect x="658.02" y="528.60" width="0.79" height="7.90" fill="#1d5ba6"/>
<rect x="658.61" y="531.33" width="0.79" height="5.17" fill="#1d5ba6"/>
<rect x="659.20" y="530.55" width="0.79" height="5.95" fill="#1d5ba6"/>
<rect x="659.79" y="529.84" width="0.79" height="6.66" fill="#1d5ba6"/>
<rect x="660.37" y="531.08" width="0.79" height="5.42" fill="#1d5ba6"/>
<rect x="660.96" y="531.48" width="0.79" height="5.02" fill="#1d5ba6"/>
<rect x="661.55" y="530.36" width="0.79" height="6.14" fill="#1d5ba6"/>
<rect x="662.14" y="530.15" width="0.79" height="6.35" fill="#1d5ba6"/>
<rect x="662.73" y="532.07" width="0.79" height="4.43" fill="#1d5ba6"/>
<rect x="663.32" y="530.78" width="0.79" height="5.72" fill="#1d5ba6"/>
<rect x="663.91" y="531.15" width="0.79" height="5.35" fill="#1d5ba6"/>
<rect x="664.50" y="530.92" width="0.79" height="5.58" fill="#1d5ba6"/>
<rect x="665.09" y="531.89" width="0.79" height="4.61" fill="#1d5ba6"/>
<rect x="665.68" y="531.70" width="0.79" height="4.80" fill="#1d5ba6"/>
<rect x="666.26" y="532.86" width="0.79" height="3.64" fill="#1d5ba6"/>
<rect x="666.85" y="533.00" width="0.79" height="3.50" fill="#1d5ba6"/>
<rect x="667.44" y="532.89" width="0.79" height="3.61" fill="#1d5ba6"/>
<rect x="668.03" y="531.91" width="0.79" height="4.59" fill="#1d5ba6"/>
<rect x="668.62" y="532.64" width="0.79" height="3.86" fill="#1d5ba6"/>
<rect x="669.21" y="531.49" width="0.79" height="5.01" fill="#1d5ba6"/>
<rect x="669.80" y="532.43" width="0.79" height="4.07" fill="#1d5ba6"/>
<rect x="670.39" y="532.43" width="0.79" height="4.07" fill="#1d5ba6"/>
<rect x="670.98" y="531.35" width="0.79" height="5.15" fill="#1d5ba6"/>
<rect x="671.56" y="532.40" width="0.79" height="4.10" fill="#1d5ba6"/>
<rect x="672.15" y="532.41" width="0.79" height="4.09" fill="#1d5ba6"/>
<rect x="672.74" y="531.57" width="0.79" height="4.93" fill="#1d5ba6"/>
<rect x="673.33" y="531.55" width="0.79" height="4.95" fill="#1d5ba6"/>
<rect x="673.92" y="533.48" width="0.79" height="3.02" fill="#1d5ba6"/>
<rect x="674.51" y="532.79" width="0.79" height="3.71" fill="#1d5ba6"/>
<rect x="675.10" y="532.50" width="0.79" height="4.00" fill="#1d5ba6"/>
<rect x="675.69" y="532.66" width="0.79" height="3.84" fill="#1d5ba6"/>
<rect x="676.28" y="533.82" width="0.79" height="2.68" fill="#1d5ba6"/>
<rect x="676.86" y="533.60" width="0.79" height="2.90" fill="#1d5ba6"/>
<rect x="677.45" y="532.32" width="0.79" height="4.18" fill="#1d5ba6"/>
<rect x="678.04" y="532.72" width="0.79" height="3.78" fill="#1d5ba6"/>
<rect x="678.63" y="534.05" width="0.79" height="2.45" fill="#1d5ba6"/>
<rect x="679.22" y="533.49" width="0.79" height="3.01" fill="#1d5ba6"/>
<rect x="679.81" y="533.85" width="0.79" height="2.65" fill="#1d5ba6"/>
<rect x="680.40" y="534.25" width="0.79" height="2.25" fill="#1d5ba6"/>
<rect x="680.99" y="533.92" width="0.79" height="2.58" fill="#1d5ba6"/>
<rect x="681.58" y="533.58" width="0.79" height="2.92" fill="#1d5ba6"/>
<rect x="682.17" y="532.96" width="0.79" height="3.54" fill="#1d5ba6"/>
<rect x="682.75" y="534.40" width="0.79" height="2.10" fill="#1d5ba6"/>
<rect x="683.34" y="534.39" width="0.79" height="2.11" fill="#1d5ba6"/>
<rect x="683.93" y="533.99" width="0.79" height="2.51" fill="#1d5ba6"/>
<rect x="684.52" y="534.23" width="0.79" height="2.27" fill="#1d5ba6"/>
<rect x="685.11" y="533.75" width="0.79" height="2.75" fill="#1d5ba6"/>
<rect x="685.70" y="534.11" width="0.79" height="2.39" fill="#1d5ba6"/>
<rect x="686.29" y="533.64" width="0.79" height="2.86" fill="#1d5ba6"/>
<rect x="686.88" y="534.18" width="0.79" height="2.32" fill="#1d5ba6"/>
<rect x="687.47" y="533.85" width="0.79" height="2.65" fill="#1d5ba6"/>
<rect x="688.05" y="534.46" width="0.79" height="2.04" fill="#1d5ba6"/>
<rect x="688.64" y="534.67" width="0.79" height="1.83" fill="#1d5ba6"/>
<rect x="689.23" y="534.79" width="0.79" height="1.71" fill="#1d5ba6"/>
<rect x="689.82" y="535.14" width="0.79" height="1.36" fill="#1d5ba6"/>
<rect x="690.41" y="534.63" width="0.79" height="1.87" fill="#1d5ba6"/>
<rect x="691.00" y="535.21" width="0.79" height="1.29" fill="#1d5ba6"/>
<rect x="691.59" y="535.27" width="0.79" height="1.23" fill="#1d5ba6"/>
<rect x="692.18" y="535.11" width="0.79" height="1.39" fill="#1d5ba6"/>
<rect x="692.77" y="535.32" width="0.79" height="1.18" fill="#1d5ba6"/>
<rect x="693.36" y="535.43" width="0.79" height="1.07" fill="#1d5ba6"/>
<rect x="693.94" y="535.20" width="0.79" height="1.30" fill="#1d5ba6"/>
<rect x="694.53" y="535.34" width="0.79" height="1.16" fill="#1d5ba6"/>
<rect x="695.12" y="535.62" width="0.79" height="0.88" fill="#1d5ba6"/>
<rect x="695.71" y="535.11" width="0.79" height="1.39" fill="#1d5ba6"/>
<rect x="696.30" y="535.32" width="0.79" height="1.18" fill="#1d5ba6"/>
<rect x="696.89" y="535.74" width="0.79" height="0.76" fill="#1d5ba6"/>
<rect x="568" y="535.8" width="129" height="0.8" fill="#1d5ba6"/>
<path d="M566.3 451.6 V536.8 H697.5" fill="none" stroke="#777" stroke-width=".7"/>
<path d="M563.8 536.5 H567" stroke="#777" stroke-width=".7"/>
<text x="563.8" y="539.4" font-family="Liberation Sans,sans-serif" font-size="8" fill="#444" text-anchor="end" letter-spacing="-.4">0</text>
<path d="M563.8 515.3 H567" stroke="#777" stroke-width=".7"/>
<text x="563.8" y="518.2" font-family="Liberation Sans,sans-serif" font-size="8" fill="#444" text-anchor="end" letter-spacing="-.4">50</text>
<path d="M563.8 494.1 H567" stroke="#777" stroke-width=".7"/>
<text x="563.8" y="496.9" font-family="Liberation Sans,sans-serif" font-size="8" fill="#444" text-anchor="end" letter-spacing="-.4">100</text>
<path d="M563.8 472.8 H567" stroke="#777" stroke-width=".7"/>
<text x="563.8" y="475.7" font-family="Liberation Sans,sans-serif" font-size="8" fill="#444" text-anchor="end" letter-spacing="-.4">150</text>
<path d="M563.8 451.6 H567" stroke="#777" stroke-width=".7"/>
<text x="563.8" y="454.5" font-family="Liberation Sans,sans-serif" font-size="8" fill="#444" text-anchor="end" letter-spacing="-.4">200</text>
<text x="568.5" y="549.3" font-family="Liberation Sans,sans-serif" font-size="8" fill="#444" text-anchor="middle" letter-spacing="-.3">30</text>
<path d="M568.5 536.8 V539" stroke="#777" stroke-width=".6"/>
<text x="579.2" y="549.3" font-family="Liberation Sans,sans-serif" font-size="8" fill="#444" text-anchor="middle" letter-spacing="-.3">40</text>
<path d="M579.2 536.8 V539" stroke="#777" stroke-width=".6"/>
<text x="600.6" y="549.3" font-family="Liberation Sans,sans-serif" font-size="8" fill="#444" text-anchor="middle" letter-spacing="-.3">60</text>
<path d="M600.6 536.8 V539" stroke="#777" stroke-width=".6"/>
<text x="622.0" y="549.3" font-family="Liberation Sans,sans-serif" font-size="8" fill="#444" text-anchor="middle" letter-spacing="-.3">80</text>
<path d="M622.0 536.8 V539" stroke="#777" stroke-width=".6"/>
<text x="643.5" y="549.3" font-family="Liberation Sans,sans-serif" font-size="8" fill="#444" text-anchor="middle" letter-spacing="-.3">100</text>
<path d="M643.5 536.8 V539" stroke="#777" stroke-width=".6"/>
<text x="664.9" y="549.3" font-family="Liberation Sans,sans-serif" font-size="8" fill="#444" text-anchor="middle" letter-spacing="-.3">120</text>
<path d="M664.9 536.8 V539" stroke="#777" stroke-width=".6"/>
<text x="697.0" y="549.3" font-family="Liberation Sans,sans-serif" font-size="8" fill="#444" text-anchor="middle" letter-spacing="-.3">150</text>
<path d="M697.0 536.8 V539" stroke="#777" stroke-width=".6"/>
<text x="633.8" y="559.8" font-family="Liberation Sans,sans-serif" font-size="8" fill="#444" text-anchor="middle" letter-spacing="-.2">Size (nm)</text>
<text transform="translate(547 494) rotate(-90)" font-family="Liberation Sans,sans-serif" font-size="7.6" fill="#5a4a2a" text-anchor="middle">Events</text>
<path d="M568.8 452 V536" stroke="#f08080" stroke-width=".6"/><path d="M696.5 452 V536" stroke="#f08080" stroke-width=".6"/>
<text x="694.5" y="521" font-family="Liberation Sans,sans-serif" font-size="5" fill="#e05050">×</text>
<rect x="776.8" y="452.4" width="29" height="16" fill="#f5f5f5"/>
<text x="771.7" y="463.2" font-family="Liberation Sans,sans-serif" font-size="8.2" fill="#1e1e1e" text-anchor="end" textLength="41.8" lengthAdjust="spacingAndGlyphs">Total  Events</text>
<text x="778.8" y="463.4" font-family="Liberation Serif,serif" font-size="8.2" fill="#777">5464</text>
<rect x="776.8" y="470.1" width="29" height="16" fill="#f5f5f5"/>
<text x="771.7" y="480.9" font-family="Liberation Sans,sans-serif" font-size="8.2" fill="#1e1e1e" text-anchor="end" textLength="44.2" lengthAdjust="spacingAndGlyphs">Gating Events</text>
<text x="778.8" y="481.1" font-family="Liberation Serif,serif" font-size="8.2" fill="#777">5336</text>
<rect x="776.8" y="488.3" width="29" height="16" fill="#f5f5f5"/>
<text x="774.8" y="499.1" font-family="Liberation Sans,sans-serif" font-size="8.2" fill="#1e1e1e" text-anchor="end" textLength="24.8" lengthAdjust="spacingAndGlyphs">% of all</text>
<text x="778.8" y="499.3" font-family="Liberation Sans,sans-serif" font-size="7.6" fill="#444">97.66</text>
<rect x="776.8" y="506.4" width="29" height="16" fill="#f5f5f5"/>
<text x="774.8" y="517.2" font-family="Liberation Sans,sans-serif" font-size="8.2" fill="#1e1e1e" text-anchor="end" textLength="24.2" lengthAdjust="spacingAndGlyphs">Median</text>
<text x="778.8" y="517.4" font-family="Liberation Sans,sans-serif" font-size="7.6" fill="#444">76.75</text>
<text x="809.7" y="517.4" font-family="Liberation Sans,sans-serif" font-size="6.8" fill="#666">nm</text>
<rect x="776.8" y="524.2" width="29" height="16" fill="#f5f5f5"/>
<text x="774.8" y="535.0" font-family="Liberation Sans,sans-serif" font-size="8.2" fill="#1e1e1e" text-anchor="end" textLength="17.3" lengthAdjust="spacingAndGlyphs">Mean</text>
<text x="778.8" y="535.2" font-family="Liberation Sans,sans-serif" font-size="7.6" fill="#444">81.97</text>
<text x="809.7" y="535.2" font-family="Liberation Sans,sans-serif" font-size="6.8" fill="#666">nm</text>
<rect x="776.8" y="543.5" width="29" height="16" fill="#f5f5f5"/>
<text x="774.8" y="554.3" font-family="Liberation Sans,sans-serif" font-size="8.2" fill="#1e1e1e" text-anchor="end" textLength="26.2" lengthAdjust="spacingAndGlyphs">Std Dev.</text>
<text x="778.8" y="554.5" font-family="Liberation Sans,sans-serif" font-size="7.6" fill="#444">16.61</text>
<text x="809.7" y="554.5" font-family="Liberation Sans,sans-serif" font-size="6.8" fill="#666">nm</text>
<text x="873" y="441" font-family="Liberation Sans,Noto Sans CJK SC,sans-serif" font-size="7.6" fill="#333">外泌体</text>
<path d="M864 444.2 H903" stroke="#333" stroke-width=".8"/>
<text x="875" y="454" font-family="Liberation Sans,sans-serif" font-size="7.6" fill="#333" text-anchor="middle">1</text>
<text x="893" y="454" font-family="Liberation Sans,sans-serif" font-size="7.6" fill="#333" text-anchor="middle">2</text>
<text x="915.7" y="454" font-family="Liberation Sans,sans-serif" font-size="7.6" fill="#333" text-anchor="middle">Hela</text>
<rect x="863.8" y="456.0" width="60.2" height="18.0" fill="#efefef" stroke="#4a4a4a" stroke-width=".9"/>
<rect x="906.3" y="461.0" width="15.0" height="8.0" rx="4.0" fill="#050505"/>
<text x="862.3" y="468.4" font-family="Liberation Sans,sans-serif" font-size="9.6" fill="#2a2a2a" text-anchor="end" textLength="28.3" lengthAdjust="spacingAndGlyphs">Calnexin</text>
<text x="927.8" y="464.9" font-family="Liberation Sans,sans-serif" font-size="8" fill="#333" textLength="20.4" lengthAdjust="spacingAndGlyphs">100KD</text>
<rect x="863.8" y="479.8" width="40.2" height="19.2" fill="#bdbdbd" stroke="#4a4a4a" stroke-width=".9"/>
<rect x="864.5" y="486.2" width="17.0" height="6.4" rx="3.2" fill="#111"/>
<rect x="885.0" y="484.4" width="19.0" height="10.0" rx="5.0" fill="#080808"/>
<text x="862.3" y="492.8" font-family="Liberation Sans,sans-serif" font-size="9.6" fill="#2a2a2a" text-anchor="end" textLength="25.5" lengthAdjust="spacingAndGlyphs">TSG101</text>
<text x="906.6" y="493.6" font-family="Liberation Sans,sans-serif" font-size="8" fill="#333" textLength="16.9" lengthAdjust="spacingAndGlyphs">55KD</text>
<rect x="863.8" y="504.0" width="40.2" height="20.4" fill="#d6d6d6" stroke="#4a4a4a" stroke-width=".9"/>
<rect x="863.5" y="511.2" width="19.0" height="6.0" rx="3.0" fill="#777"/>
<rect x="884.0" y="511.5" width="19.0" height="5.4" rx="2.7" fill="#8a8a8a"/>
<text x="862.3" y="517.6" font-family="Liberation Sans,sans-serif" font-size="9.6" fill="#2a2a2a" text-anchor="end" textLength="21.0" lengthAdjust="spacingAndGlyphs">CD81</text>
<text x="906.6" y="518.4" font-family="Liberation Sans,sans-serif" font-size="8" fill="#333" textLength="16.9" lengthAdjust="spacingAndGlyphs">55KD</text>
<rect x="863.8" y="529.5" width="40.2" height="17.8" fill="#cfcfcf" stroke="#4a4a4a" stroke-width=".9"/>
<rect x="863.5" y="535.4" width="19.0" height="6.0" rx="3.0" fill="#333"/>
<rect x="884.0" y="535.4" width="19.0" height="6.0" rx="3.0" fill="#444"/>
<text x="862.3" y="541.8" font-family="Liberation Sans,sans-serif" font-size="9.6" fill="#2a2a2a" text-anchor="end" textLength="21.0" lengthAdjust="spacingAndGlyphs">CD63</text>
<text x="906.6" y="542.9" font-family="Liberation Sans,sans-serif" font-size="8" fill="#333" textLength="16.9" lengthAdjust="spacingAndGlyphs">55KD</text>
<rect x="863.8" y="552.4" width="40.2" height="16.1" fill="#b5b5b5" stroke="#4a4a4a" stroke-width=".9"/>
<rect x="863.5" y="556.2" width="19.0" height="8.6" rx="4.3" fill="#080808"/>
<rect x="885.0" y="557.0" width="17.0" height="7.0" rx="3.5" fill="#151515"/>
<text x="862.3" y="563.9" font-family="Liberation Sans,sans-serif" font-size="9.6" fill="#2a2a2a" text-anchor="end" textLength="17.0" lengthAdjust="spacingAndGlyphs">CD9</text>
<text x="906.6" y="565.5" font-family="Liberation Sans,sans-serif" font-size="8" fill="#333" textLength="16.9" lengthAdjust="spacingAndGlyphs">25KD</text>
</svg><!--/FIG-->

<div id="wm" class="a"><div>玖月爱学术</div></div>
<svg class="a" style="left:724px;top:545px" width="46" height="38" viewBox="0 0 46 38">
 <ellipse cx="16.5" cy="13.5" rx="14" ry="11.2" fill="rgba(140,140,140,.85)"/>
 <path d="M6 20 L8.5 27.5 L13.5 23z" fill="rgba(140,140,140,.85)"/>
 <circle cx="12.5" cy="10.8" r="1.9" fill="#fff"/><circle cx="22.5" cy="10.8" r="1.9" fill="#fff"/>
 <ellipse cx="30.5" cy="23.5" rx="13" ry="10.5" fill="rgba(150,150,150,.92)" stroke="#fff" stroke-width="1.3"/>
 <path d="M37 31 L39.5 35.5 L33 33z" fill="rgba(150,150,150,.92)"/>
 <circle cx="26.8" cy="20.8" r="1.7" fill="#fff"/><circle cx="34.7" cy="20.8" r="1.7" fill="#fff"/>
</svg>
<div id="wx" class="a">公众号<span style="display:inline-block;width:38px;height:1.6px;background:rgba(120,120,120,.72);vertical-align:10px;margin:0 -2px 0 -6px"></span>玖月爱学术</div>
<div id="foot" class="a">Lötvall J, et al. Minimal experimental requirements for definition of extracellular vesicles and their functions: a position statement from the International Society for Extracellular Vesicles. J Extracell Vesicles. 2014;3:26913.</div>
<div id="ywx" class="a">yωx</div>
</body></html>
